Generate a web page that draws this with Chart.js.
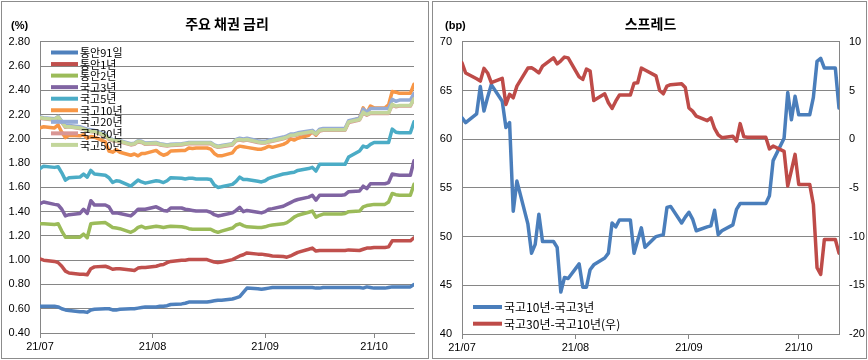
<!DOCTYPE html>
<html><head><meta charset="utf-8">
<script src="https://cdn.jsdelivr.net/npm/chart.js@4/dist/chart.umd.min.js"></script>
<style>
body{margin:0;background:#fff;width:868px;height:360px;position:relative;overflow:hidden}
.panel{position:absolute;border:1px solid #8c8c8c;background:#fff;box-sizing:border-box}
#p1{left:1px;top:1px;width:428px;height:358px}
#p2{left:432px;top:1px;width:435px;height:358px}
canvas{position:absolute;display:block}
#c1{left:1px;top:1px}
#c2{left:0px;top:1px}
</style></head><body>
<div class="panel" id="p1"><canvas id="c1" width="426" height="356"></canvas></div>
<div class="panel" id="p2"><canvas id="c2" width="432" height="356"></canvas></div>
<script>
// ---- data ----
const dates = ['07-01','07-02','07-05','07-06','07-07','07-08','07-09','07-12','07-13','07-14',
'07-15','07-16','07-19','07-20','07-21','07-22','07-23','07-26','07-27','07-28',
'07-29','07-30','08-02','08-03','08-04','08-05','08-06','08-09','08-10','08-11',
'08-12','08-13','08-16','08-17','08-18','08-19','08-20','08-23','08-24','08-25',
'08-26','08-27','08-30','08-31','09-01','09-02','09-03','09-06','09-07','09-08',
'09-09','09-10','09-13','09-14','09-15','09-16','09-17','09-20','09-21','09-22',
'09-23','09-24','09-27','09-28','09-29','09-30','10-01','10-04','10-05','10-06',
'10-07','10-08','10-11','10-12'];
const tickDates = ['07-01','08-01','09-01','10-01'];
const tickLabels = ['21/07','21/08','21/09','21/10'];

const msb91d = [0.62,0.62,0.62,0.615,0.60,0.59,0.585,0.575,0.575,0.57,
0.59,0.595,0.60,0.60,0.59,0.59,0.595,0.60,0.60,0.605,
0.61,0.615,0.615,0.62,0.62,0.625,0.635,0.64,0.645,0.655,
0.655,0.655,0.655,0.66,0.665,0.67,0.67,0.68,0.69,0.70,
0.735,0.77,0.765,0.76,0.765,0.77,0.775,0.775,0.775,0.775,
0.775,0.775,0.775,0.775,0.77,0.77,0.775,0.775,0.775,0.775,
0.775,0.775,0.775,0.77,0.78,0.775,0.77,0.77,0.775,0.78,
0.78,0.78,0.78,0.80];
const msb1y = [1.01,1.00,0.99,0.98,0.95,0.91,0.895,0.885,0.885,0.88,
0.93,0.945,0.95,0.94,0.925,0.93,0.93,0.92,0.915,0.935,
0.94,0.94,0.95,0.96,0.965,0.98,0.99,1.00,1.00,1.005,
1.005,1.005,1.005,0.995,0.985,0.98,0.985,1.005,1.02,1.035,
1.045,1.06,1.05,1.05,1.045,1.04,1.035,1.03,1.025,1.035,
1.05,1.065,1.09,1.10,1.075,1.08,1.08,1.08,1.08,1.08,
1.08,1.085,1.08,1.09,1.10,1.10,1.105,1.105,1.11,1.16,
1.16,1.16,1.16,1.185];
const msb2y = [1.30,1.30,1.295,1.30,1.24,1.19,1.19,1.19,1.215,1.185,
1.30,1.305,1.31,1.29,1.27,1.265,1.26,1.23,1.245,1.27,
1.28,1.265,1.28,1.275,1.27,1.275,1.28,1.275,1.27,1.26,
1.255,1.255,1.255,1.255,1.24,1.23,1.24,1.265,1.29,1.30,
1.285,1.275,1.27,1.27,1.275,1.285,1.29,1.30,1.31,1.33,
1.355,1.37,1.395,1.405,1.355,1.37,1.38,1.38,1.38,1.38,
1.385,1.40,1.405,1.44,1.45,1.455,1.46,1.46,1.48,1.55,
1.54,1.535,1.535,1.625];
const ktb3y = [1.465,1.48,1.46,1.455,1.42,1.365,1.375,1.385,1.42,1.385,
1.49,1.455,1.455,1.44,1.39,1.39,1.385,1.365,1.39,1.42,
1.42,1.42,1.44,1.425,1.41,1.405,1.43,1.43,1.42,1.415,
1.41,1.405,1.405,1.395,1.375,1.365,1.37,1.39,1.41,1.435,
1.40,1.41,1.395,1.39,1.40,1.42,1.425,1.445,1.46,1.475,
1.49,1.50,1.52,1.535,1.495,1.535,1.535,1.535,1.535,1.535,
1.54,1.565,1.57,1.61,1.59,1.63,1.63,1.63,1.64,1.71,
1.705,1.70,1.70,1.82];
const ktb5y = [1.755,1.775,1.765,1.77,1.72,1.66,1.68,1.685,1.71,1.685,
1.74,1.71,1.70,1.68,1.64,1.655,1.65,1.61,1.635,1.66,
1.645,1.635,1.655,1.65,1.64,1.655,1.68,1.675,1.67,1.675,
1.675,1.67,1.67,1.665,1.62,1.60,1.605,1.625,1.65,1.685,
1.665,1.665,1.65,1.645,1.655,1.675,1.685,1.71,1.715,1.72,
1.725,1.74,1.755,1.765,1.735,1.79,1.79,1.79,1.79,1.79,
1.79,1.85,1.90,1.94,1.93,1.955,1.97,1.97,1.97,2.08,
2.055,2.05,2.05,2.14];
const ktb10y = [2.09,2.10,2.09,2.115,2.055,2.01,2.03,2.025,2.035,2.005,
2.02,2.015,1.975,1.90,1.89,1.91,1.89,1.865,1.875,1.86,
1.88,1.88,1.905,1.88,1.865,1.875,1.90,1.905,1.905,1.925,
1.92,1.925,1.925,1.915,1.88,1.86,1.86,1.885,1.925,1.94,
1.935,1.93,1.915,1.915,1.925,1.94,1.93,1.955,1.97,2.00,
1.99,2.005,2.03,2.06,2.03,2.07,2.07,2.07,2.07,2.07,
2.08,2.14,2.17,2.255,2.21,2.27,2.255,2.255,2.28,2.39,
2.385,2.375,2.375,2.45];
const ktb20y = [2.18,2.175,2.165,2.185,2.145,2.11,2.11,2.10,2.09,2.08,
2.075,2.07,2.04,2.005,1.995,1.99,1.985,1.96,1.965,1.985,
1.98,1.965,1.97,1.96,1.955,1.95,1.955,1.96,1.965,1.97,
1.97,1.97,1.97,1.97,1.95,1.94,1.945,1.96,1.995,2.005,
2.00,2.005,1.985,1.98,1.98,1.99,1.995,2.015,2.025,2.04,
2.04,2.05,2.065,2.07,2.045,2.08,2.085,2.085,2.085,2.085,
2.085,2.15,2.17,2.245,2.22,2.25,2.25,2.25,2.25,2.325,
2.31,2.32,2.32,2.375];
const ktb30y = [2.17,2.165,2.155,2.175,2.135,2.095,2.10,2.085,2.08,2.065,
2.06,2.055,2.025,1.995,1.985,1.98,1.975,1.95,1.955,1.975,
1.97,1.955,1.96,1.95,1.945,1.94,1.945,1.95,1.955,1.96,
1.96,1.96,1.96,1.96,1.94,1.93,1.935,1.95,1.985,1.99,
1.985,1.99,1.97,1.965,1.965,1.975,1.98,2.00,2.01,2.025,
2.025,2.035,2.05,2.055,2.035,2.065,2.07,2.07,2.07,2.07,
2.07,2.135,2.155,2.215,2.195,2.21,2.21,2.21,2.21,2.28,
2.265,2.27,2.27,2.33];
const ktb50y = [2.175,2.17,2.16,2.18,2.14,2.10,2.10,2.09,2.08,2.07,
2.06,2.06,2.03,2.00,1.99,1.985,1.98,1.955,1.96,1.98,
1.975,1.96,1.965,1.955,1.95,1.945,1.95,1.955,1.96,1.965,
1.965,1.965,1.965,1.965,1.945,1.935,1.94,1.955,1.99,1.995,
1.99,1.995,1.975,1.97,1.97,1.98,1.985,2.005,2.015,2.03,
2.03,2.04,2.055,2.06,2.04,2.07,2.075,2.075,2.075,2.075,
2.075,2.14,2.16,2.22,2.20,2.215,2.215,2.215,2.215,2.285,
2.27,2.275,2.275,2.33];
const spread10y3y = [62.2,61.7,62.6,65.4,62.9,64.3,65.6,63.9,61.2,61.7,
52.6,55.7,51.3,48.3,49.2,52.3,49.5,49.5,48.9,44.3,
45.8,45.7,47.2,44.8,44.8,46.6,47.1,47.8,48.3,51.4,
51.0,51.7,51.7,48.3,49.6,50.9,48.9,50.0,50.1,50.2,
53.0,53.1,51.4,52.0,52.5,51.8,50.6,51.0,51.1,52.7,
50.2,50.6,51.2,52.8,53.4,53.4,53.4,53.4,53.4,53.4,
54.2,57.8,60.1,64.8,62.0,64.4,62.5,62.5,64.3,68.0,
68.3,67.3,67.3,63.2];
const spread30y10y = [7.85,6.8,6.2,5.96,7.27,6.8,5.8,6.24,3.57,4.6,
4.25,5.45,7.3,7.33,7.1,6.8,7.5,8.36,7.74,8.05,
8.43,8.35,6.4,6.14,7.2,7.0,3.98,4.66,3.74,3.16,
3.9,4.53,4.53,5.75,5.8,7.3,7.1,6.5,5.0,4.66,
5.45,5.6,5.69,5.3,3.2,2.88,2.37,1.9,2.2,1.1,
0.45,0.15,0.3,-0.2,1.6,0.25,0.2,0.2,0.2,0.2,
-1.0,-0.7,-1.25,-4.8,-3.2,-1.56,-4.64,-4.64,-6.7,-13.2,
-13.88,-10.3,-10.3,-11.7];

const leftNames = ['통안91일','통안1년','통안2년','국고3년','국고5년','국고10년','국고20년','국고30년','국고50년'];
const leftSeries = [msb91d,msb1y,msb2y,ktb3y,ktb5y,ktb10y,ktb20y,ktb30y,ktb50y];
const leftColors = ['#4F81BD','#C0504D','#9BBB59','#8064A2','#4BACC6','#F79646','#95ABD6','#D99694','#C3D69B'];
const rightNames = ['국고10년-국고3년','국고30년-국고10년(우)'];
const rightColors = ['#4A7EBB','#BE4B48'];

// ---- helpers ----
const toDay = s => { const [m,d] = s.split('-').map(Number); return (Date.UTC(2021,m-1,d)-Date.UTC(2021,6,1))/86400000; };
const xDays = dates.map(toDay);
const tickDays = tickDates.map(toDay);
const pts = arr => arr.map((v,i)=>({x:xDays[i], y:v}));
const KR = "'Noto Sans CJK KR','Noto Sans',sans-serif";
const NUM = "'Liberation Sans',Arial,sans-serif";
const GRID = '#868686';
const LW = 3.5;

const legendPlugin = {
  id:'boxLegend',
  afterDatasetsDraw(chart, args, opts){
    const ctx = chart.ctx;
    ctx.save();
    chart.data.datasets.forEach((ds,i)=>{
      const y = opts.y + i*opts.dy;
      ctx.strokeStyle = ds.borderColor; ctx.lineWidth = 4; ctx.lineCap='butt';
      ctx.beginPath(); ctx.moveTo(opts.x, y); ctx.lineTo(opts.x+opts.len, y); ctx.stroke();
      ctx.fillStyle = '#000'; ctx.font = opts.font; ctx.textBaseline='middle'; ctx.textAlign='left';
      ctx.fillText(ds.label, opts.x+opts.len+2, y+0.5);
    });
    if (opts.unit){ ctx.font = "bold 11px "+NUM; ctx.fillStyle='#000'; ctx.textBaseline='middle'; ctx.fillText(opts.unit, opts.ux, opts.uy); }
    ctx.restore();
  }
};

const xScale = (h) => ({
  type:'linear', min:0, max:103,
  afterBuildTicks: s => { s.ticks = tickDays.map(v=>({value:v})); },
  ticks:{autoSkip:false, maxRotation:0, padding:2, color:'#000', font:{family:NUM,size:11},
         callback:(v,i)=>tickLabels[i]},
  grid:{drawOnChartArea:false, drawTicks:true, tickLength:5, color:GRID},
  border:{color:GRID},
  afterFit: s => { s.height = h; }
});

new Chart(document.getElementById('c1'), {
  type:'line',
  data:{ datasets: leftSeries.map((arr,i)=>({
    label:leftNames[i], data:pts(arr), borderColor:leftColors[i], backgroundColor:leftColors[i],
    borderWidth:LW, pointRadius:0, tension:0, borderJoinStyle:'round', borderCapStyle:'round', order:8-i })) },
  options:{
    responsive:false, devicePixelRatio:1, animation:false, events:[],
    layout:{padding:{left:0,right:15,top:0,bottom:0}},
    plugins:{
      legend:{display:false}, tooltip:{enabled:false},
      title:{display:true, text:'주요 채권 금리', fullSize:false, color:'#000',
             font:{family:KR,size:14,weight:'bold'}, padding:{top:12,bottom:10}},
      boxLegend:{x:48, y:49.5, dy:11.55, len:27, font:"11px "+KR, unit:'(%)', ux:8, uy:23}
    },
    scales:{
      x: xScale(26),
      y:{min:0.4, max:2.8,
         ticks:{stepSize:0.2, padding:10, color:'#000', font:{family:NUM,size:11}, callback:v=>v.toFixed(2)},
         grid:{color:GRID, drawTicks:false}, border:{color:GRID},
         afterFit:s=>{ s.width = 37; }}
    }
  },
  plugins:[legendPlugin]
});

new Chart(document.getElementById('c2'), {
  type:'line',
  data:{ datasets:[
    {label:rightNames[0], data:pts(spread10y3y), yAxisID:'y', borderColor:rightColors[0], backgroundColor:rightColors[0],
     borderWidth:LW, pointRadius:0, tension:0, borderJoinStyle:'round', borderCapStyle:'round', order:1},
    {label:rightNames[1], data:pts(spread30y10y), yAxisID:'y1', borderColor:rightColors[1], backgroundColor:rightColors[1],
     borderWidth:LW, pointRadius:0, tension:0, borderJoinStyle:'round', borderCapStyle:'round', order:0}
  ]},
  options:{
    responsive:false, devicePixelRatio:1, animation:false, events:[],
    layout:{padding:{left:0,right:0,top:0,bottom:0}},
    plugins:{
      legend:{display:false}, tooltip:{enabled:false},
      title:{display:true, text:'스프레드', fullSize:false, color:'#000',
             font:{family:KR,size:14,weight:'bold'}, padding:{top:12,bottom:10}},
      boxLegend:{x:40, y:304, dy:16.7, len:29, font:"12px "+KR, unit:'(bp)', ux:12, uy:23}
    },
    scales:{
      x: xScale(25),
      y:{position:'left', min:40, max:70,
         ticks:{stepSize:5, padding:10, color:'#000', font:{family:NUM,size:11}},
         grid:{color:GRID, drawTicks:false}, border:{color:GRID},
         afterFit:s=>{ s.width = 29; }},
      y1:{position:'right', min:-20, max:10,
         ticks:{stepSize:5, padding:10, color:'#000', font:{family:NUM,size:11}},
         grid:{drawOnChartArea:false, drawTicks:false}, border:{color:GRID},
         afterFit:s=>{ s.width = 26; }}
    }
  },
  plugins:[legendPlugin]
});
</script>
</body></html>
